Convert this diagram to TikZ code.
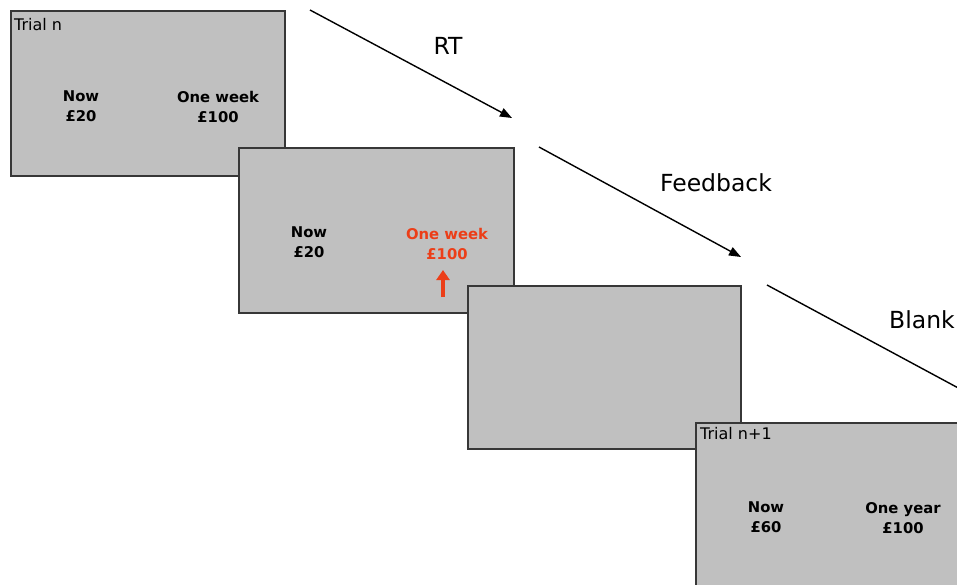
\documentclass[tikz,border=0pt]{standalone}
\usepackage{fontspec}
\setmainfont{DejaVu Sans}
\definecolor{screengray}{RGB}{192, 192, 192}
\definecolor{framegray}{RGB}{55, 55, 55}
\definecolor{choicered}{RGB}{236, 62, 24}
\usetikzlibrary{arrows.meta, positioning, calc}

\begin{document}
\begin{tikzpicture}[x=1pt, y=-1pt,
  screen/.style={draw=framegray, fill=screengray, line width=1.8pt, anchor=north west, inner sep=0pt},
  option/.style={font=\bfseries\fontsize{14.8}{20}\selectfont, align=center},
  trialtag/.style={font=\fontsize{16}{18}\selectfont, anchor=west, inner sep=0pt},
  phase/.style={font=\fontsize{23.5}{26}\selectfont},
  timeline/.style={line width=1.4pt, -{Triangle[length=12pt, width=9pt]}}]
  \useasboundingbox (0, 0) rectangle (957, 585);
  \clip (0, 0) rectangle (957, 585);

  % Trial n
  \node[screen, minimum width=274pt, minimum height=165pt] (trial1) at (10, 10) {};
  \node[trialtag] (tag1) at (14, 25) {Trial n};
  \node[option] (now1) at (81, 106) {Now\\£20};
  \node[option] (later1) at (218, 107) {One week\\£100};

  % Feedback screen
  \node[screen, minimum width=275pt, minimum height=165pt] (fbscreen) at (238, 147) {};
  \node[option] (now2) at (309, 242) {Now\\£20};
  \node[option, text=choicered] (later2) at (447, 244) {One week\\£100};
  \coordinate (pointer base) at (443, 297);
  \coordinate (pointer tip) at (443, 270);
  \draw[choicered, line width=4.5pt, -{Triangle[length=10pt, width=13pt]}] (pointer base) -- (pointer tip);

  % Blank screen
  \node[screen, minimum width=273pt, minimum height=163pt] (blankscreen) at (467, 285) {};

  % Trial n+1
  \node[screen, minimum width=300pt, minimum height=200pt] (trial2) at (695, 422) {};
  \node[trialtag] (tag2) at (700, 434) {Trial n+1};
  \node[option] (now3) at (766, 517) {Now\\£60};
  \node[option] (later3) at (903, 518) {One year\\£100};

  % Time course
  \coordinate (rt start) at (310, 10);
  \coordinate (rt end) at (512, 118);
  \coordinate (fb start) at (539, 147);
  \coordinate (fb end) at (741, 257);
  \coordinate (blank start) at (767, 285);
  \coordinate (blank end) at (975, 397);
  \draw[timeline] (rt start) -- (rt end);
  \draw[timeline] (fb start) -- (fb end);
  \draw[timeline] (blank start) -- (blank end);
  \node[phase] (rt) at (448, 46) {RT};
  \node[phase] (fb) at (716, 183) {Feedback};
  \node[phase] (blank) at (922, 320) {Blank};
\end{tikzpicture}
\end{document}
